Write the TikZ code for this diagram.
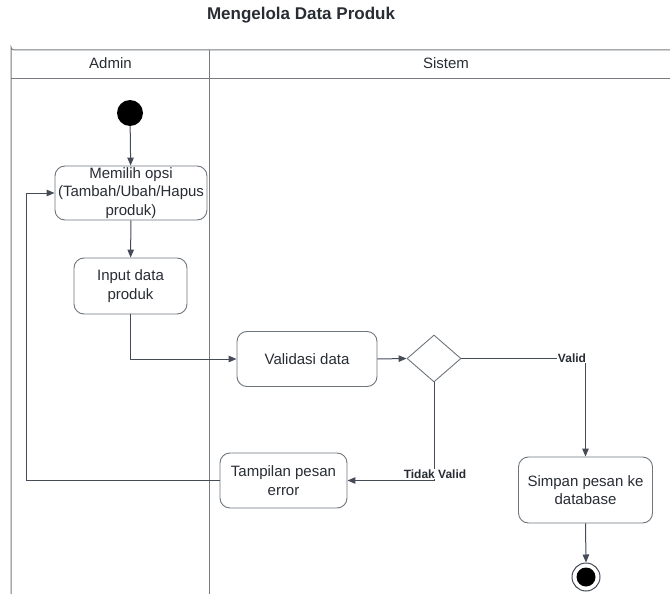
\documentclass[tikz,border=0pt]{standalone}
\usepackage{fontspec}
\setmainfont{Liberation Sans}
\usetikzlibrary{arrows.meta,shapes.geometric}
\definecolor{linec}{HTML}{454C57}
\definecolor{boxc}{HTML}{6E757D}
\definecolor{txtc}{HTML}{282C33}
\definecolor{lanec}{HTML}{777B80}
\tikzset{
  act/.style={draw=boxc, line width=0.9pt, rounded corners=10pt, fill=white, inner sep=0pt,
    align=center, text=txtc, font=\fontsize{15}{18.5}\selectfont},
  arr/.style={draw=linec, line width=1pt, -{Triangle[length=8pt,width=6.5pt]}},
  lbl/.style={font=\bfseries\fontsize{12}{14}\selectfont, text=txtc, fill=white, inner sep=1pt},
  lane/.style={draw=lanec, line width=1pt},
  hdr/.style={font=\fontsize{15}{18}\selectfont, text=txtc},
}
\begin{document}
\begin{tikzpicture}[x=1pt,y=-1pt]
\useasboundingbox (0,0) rectangle (670,594);
% title
\node[font=\bfseries\fontsize{17}{20}\selectfont, text=txtc] (title) at (301,15.5) {Mengelola Data Produk};
% swimlanes
\draw[lane] (670,50) -- (14,50) arc[start angle=90,end angle=180,radius=3] -- (11,594);
\draw[lane] (11,79) -- (670,79);
\draw[lane] (209,50) -- (209,594);
\node[hdr] (hadmin) at (110.5,63) {Admin};
\node[hdr] (hsistem) at (446,63) {Sistem};
% nodes
\node[circle, fill=black, minimum size=26pt, inner sep=0pt] (start) at (130,113) {};
\node[act, minimum width=152pt, minimum height=54pt] (memilih) at (131,193) {Memilih opsi\\(Tambah/Ubah/Hapus\\produk)};
\node[act, minimum width=113pt, minimum height=56pt] (input) at (130.5,286) {Input data\\produk};
\node[act, minimum width=140pt, minimum height=55pt] (validasi) at (307,359) {Validasi data};
\node[diamond, draw=boxc, line width=0.9pt, fill=white, inner sep=0pt, aspect=1.15, minimum width=54pt, minimum height=47pt] (dia) at (434,358.5) {};
\node[act, minimum width=127pt, minimum height=55pt] (tamp) at (283.5,480.5) {Tampilan pesan\\error};
\node[act, minimum width=134pt, minimum height=66pt] (simpan) at (585.5,490) {Simpan pesan ke\\database};
\node[circle, draw=linec, line width=1pt, fill=white, minimum size=28pt, inner sep=0pt] (end) at (586,577) {};
\node[circle, fill=black, minimum size=19pt, inner sep=0pt] (endin) at (586,577) {};
\coordinate (lp) at (26,193);
% connectors
\draw[arr] (start) -- (memilih);
\draw[arr] (memilih) -- (input);
\draw[arr] (input.south) |- (validasi.west);
\draw[arr] (validasi.east) -- (dia.west);
\draw[arr] (dia.east) -| (simpan.north);
\node[lbl] (lvalid) at (572,358) {Valid};
\draw[arr] (dia.south) |- (tamp.east);
\node[lbl] (ltidak) at (435,474) {Tidak Valid};
\draw[arr] (tamp.west) -- (tamp.west -| lp) -- (lp) -- (memilih.west);
\draw[arr] (simpan.south) -- (end.north);
\end{tikzpicture}
\end{document}
